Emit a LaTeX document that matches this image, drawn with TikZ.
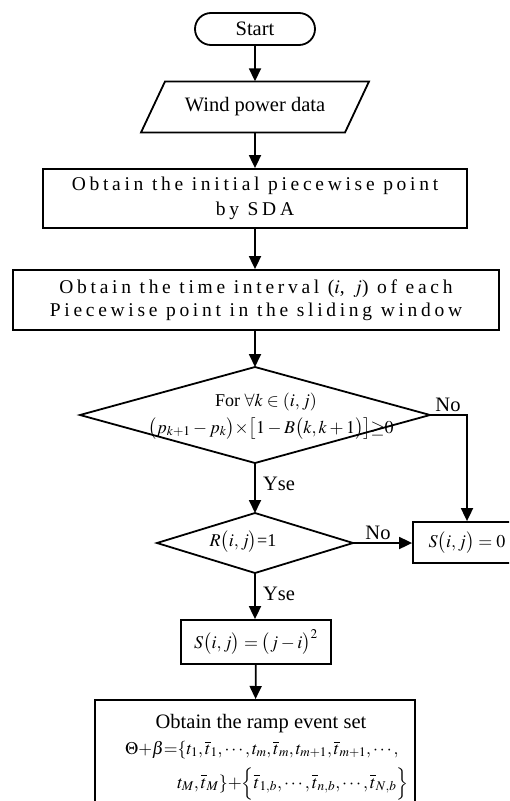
\documentclass[tikz,border=0pt]{standalone}
\usepackage{mathptmx}
\usepackage{fontspec}
\setmainfont{Liberation Serif}
\newfontfamily\spacedfont[LetterSpace=19]{Liberation Serif}
\usetikzlibrary{arrows.meta}
\tikzset{
  line/.style={line width=1.8pt},
  arr/.style={line width=1.8pt,-{Triangle[width=12pt,length=13pt]}},
  boxst/.style={draw,line width=1.8pt,inner sep=0pt,align=center},
  big/.style={font=\fontsize{20.5}{24}\selectfont},
  mid/.style={font=\fontsize{18}{21}\selectfont},
}
\begin{document}
\begin{tikzpicture}[x=1pt,y=-1pt,every node/.style={big,inner sep=0pt}]
\useasboundingbox (0,0) rectangle (509,801);
\clip (0,0) rectangle (509,801);
% Start
\node[boxst,rounded corners=16pt,minimum width=120pt,minimum height=32pt] (start) at (255,29) {Start};
% data (parallelogram)
\node[minimum width=184pt,minimum height=51pt] (data) at (255,107) {Wind power data};
\draw[line] (165,81.5) -- (369,81.5) -- (345,132.5) -- (141,132.5) -- cycle;
% box 1
\node[boxst,minimum width=424pt,minimum height=59pt,font=\fontsize{19.5}{25}\selectfont\spacedfont] (box1) at (255,198.5)
  {Obtain the initial piecewise point\\by SDA};
% box 2
\node[boxst,minimum width=486pt,minimum height=60pt,font=\fontsize{19.5}{23}\selectfont\spacedfont] (box2) at (256,300)
  {Obtain the time interval ($i$, $j$) of each\\Piecewise point in the sliding window};
% decision 1
\coordinate (d1t) at (255,367);
\coordinate (d1r) at (430,415);
\coordinate (d1b) at (255,463);
\coordinate (d1l) at (80,415);
\draw[line] (d1t) -- (d1r) -- (d1b) -- (d1l) -- cycle;
\node[mid,anchor=base] (d1a) at (266,406) {For $\forall k\in(i,j)$};
\node[mid,anchor=base] (d1c) at (271,433)
  {$\bigl(p_{k+1}-p_k\bigr){\times}\bigl[1-B\bigl(k,k+1\bigr)\bigr]{\geq}0$};
% decision 2
\coordinate (d2t) at (255,513);
\coordinate (d2r) at (353,543);
\coordinate (d2b) at (255,573);
\coordinate (d2l) at (157,543);
\draw[line] (d2t) -- (d2r) -- (d2b) -- (d2l) -- cycle;
\node[mid] (d2) at (243,542) {$R\bigl(i,j\bigr)$=1};
% S = 0
\node[boxst,mid,minimum width=108pt,minimum height=41pt] (s0) at (467,542.5) {$S\bigl(i,j\bigr)=0$};
% S = (j-i)^2
\node[boxst,mid,minimum width=150pt,minimum height=44pt] (sbox) at (256,642) {$S\bigl(i,j\bigr)=\bigl(j-i\bigr)^2$};
% final
\node[boxst,minimum width=320pt,minimum height=142pt,anchor=north] (final) at (255,699) {};
\node[anchor=base] (f1) at (261,728) {Obtain the ramp event set};
\node[font=\fontsize{17.7}{21}\selectfont,anchor=base west] (f2) at (125,754)
  {$\Theta{+}\beta{=}\{t_1,\overline{t}_1,\cdots,t_m,\overline{t}_m,t_{m+1},\overline{t}_{m+1},\cdots,$};
\node[font=\fontsize{18}{22}\selectfont,anchor=base west] (f3) at (177,788)
  {$t_M,\overline{t}_M\}{+}\Bigl\{\overline{t}_{1,b},\cdots,\overline{t}_{n,b},\cdots,\overline{t}_{N,b}\Bigr\}$};
% connectors
\draw[arr] (start) -- (data);
\draw[arr] (data.south) -- (data.south |- box1.north);
\draw[arr] (box1.south) -- (box1.south |- box2.north);
\draw[arr] (box2.south -| d1t) -- (d1t);
\draw[arr] (d1b) -- (d2t);
\draw[arr] (d2b) -- (d2b |- sbox.north);
\draw[arr] (sbox) -- (final);
\draw[arr] (d1r) -- (d1r -| s0.north) -- (s0.north);
\draw[arr] (d2r) -- (d2r -| s0.west);
% labels
\node (no1) at (448,405) {No};
\node (yes1) at (279,484) {Yse};
\node (no2) at (378,533) {No};
\node (yes2) at (279,594) {Yse};
\end{tikzpicture}
\end{document}
